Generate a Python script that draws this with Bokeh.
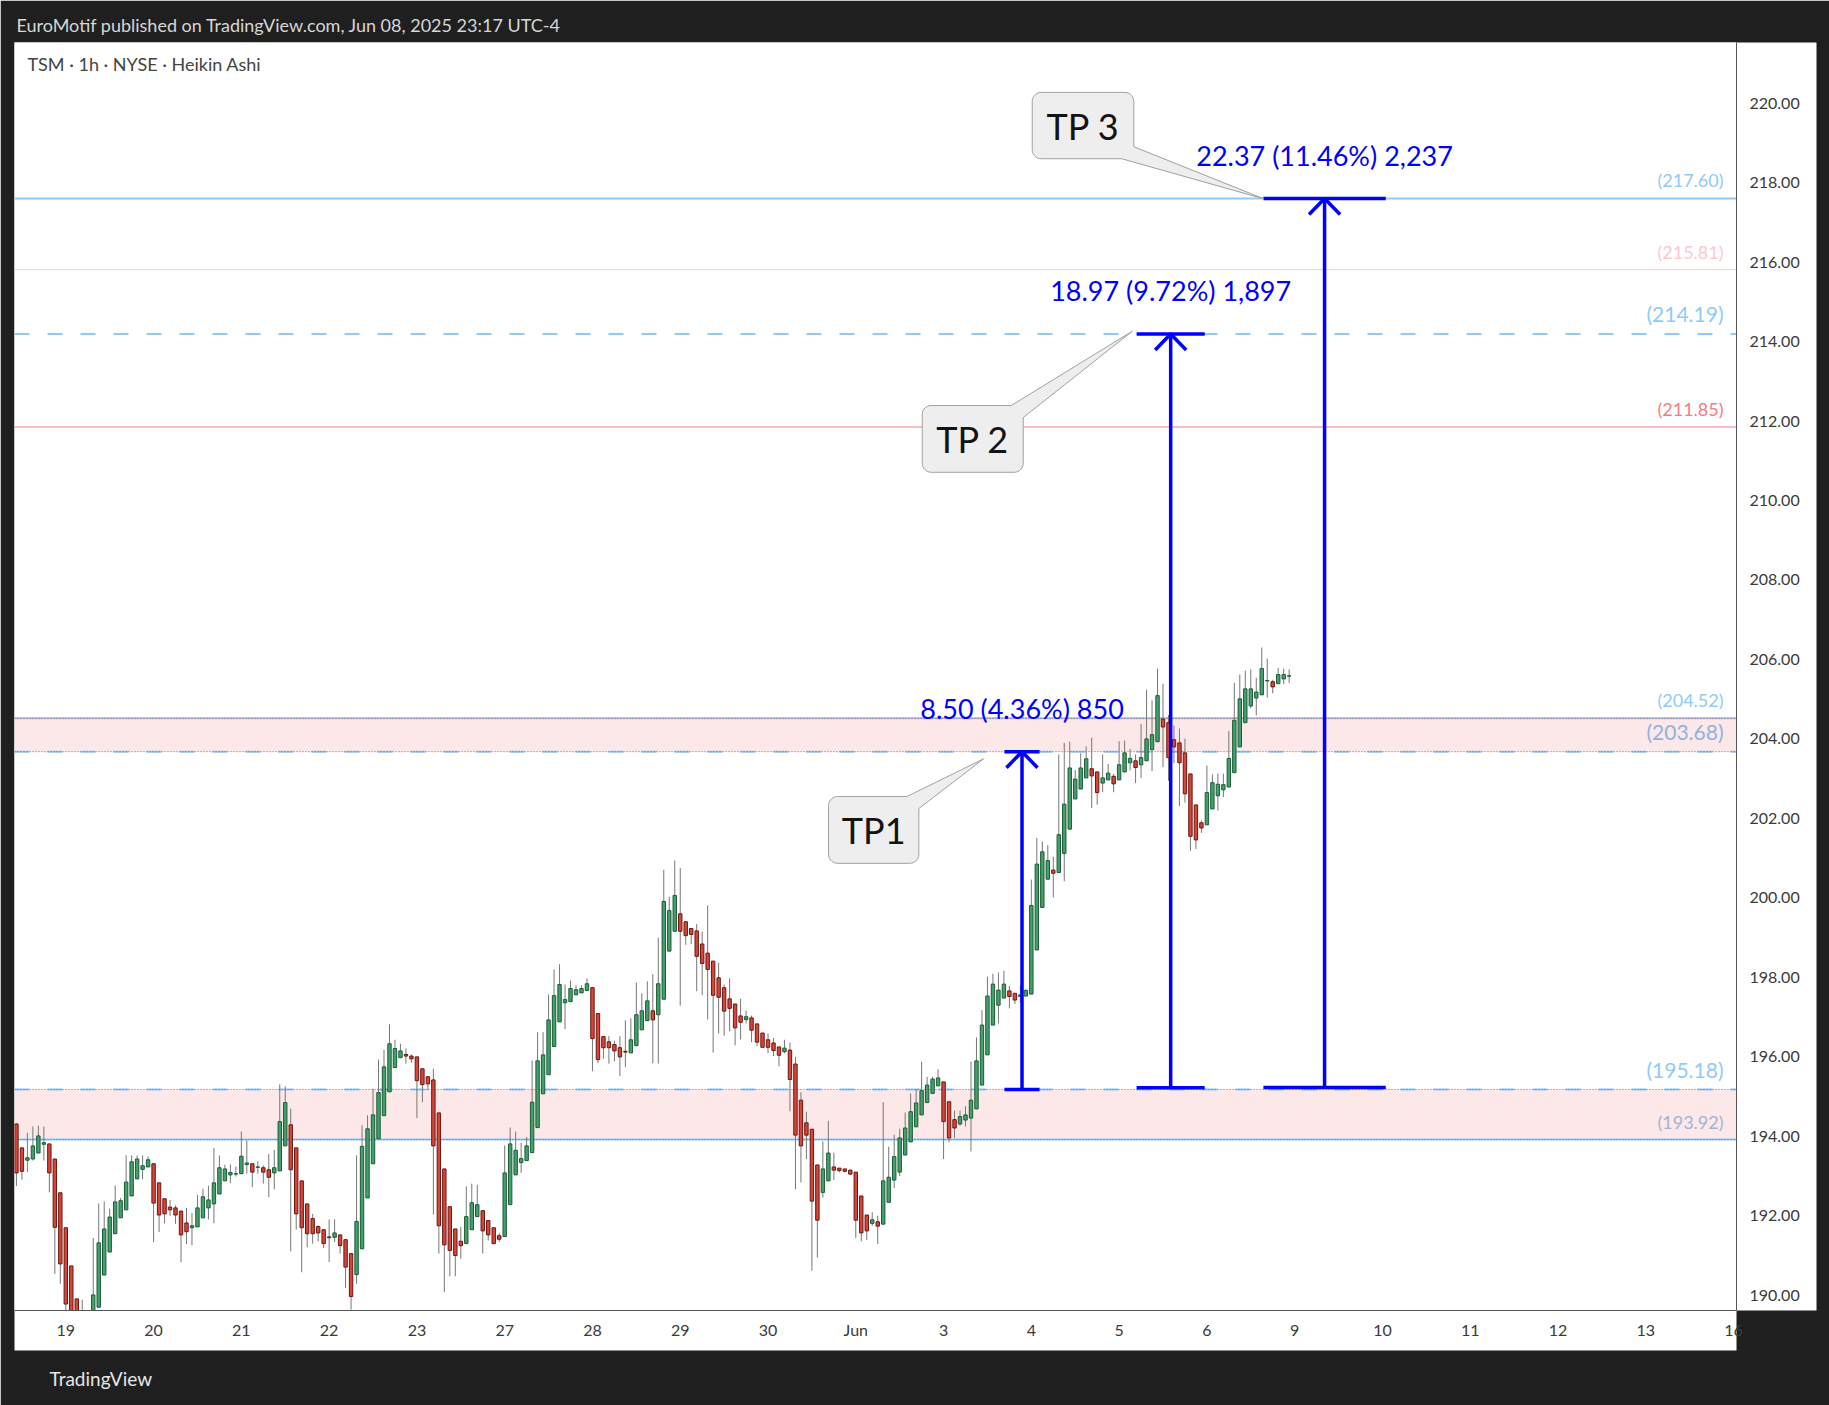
import numpy as np
from bokeh.plotting import figure
from bokeh.models import Range1d, FixedTicker, PrintfTickFormatter, Span, BoxAnnotation, Label, Title
from bokeh.embed import file_html
from bokeh.resources import INLINE

# ---------------- data (hourly Heikin Ashi bars, extended hours) ----------------
opens = [
 194.31,193.71,193.40,193.43,193.58,193.80,193.81,193.43,192.58,191.70,
 190.74,189.91,189.55,189.30,189.30,189.70,190.51,191.09,191.55,191.95,
 192.15,192.50,192.93,193.17,193.23,193.31,192.83,192.43,192.22,192.20,
 192.12,191.82,191.70,191.72,191.95,192.20,192.30,192.55,192.88,193.03,
 193.05,193.06,193.29,193.31,193.22,193.21,193.16,193.08,193.13,193.76,
 194.29,193.71,192.88,192.30,191.93,191.73,191.65,191.47,191.46,191.52,
 191.40,191.05,190.52,191.17,192.45,193.31,193.94,194.52,195.12,195.73,
 195.98,196.06,196.02,196.00,195.70,195.50,195.42,194.59,193.18,192.23,
 191.67,191.36,191.30,191.65,191.98,192.13,191.88,191.70,191.50,191.48,
 192.28,193.03,193.34,193.39,193.59,194.22,195.07,195.55,196.26,196.88,
 197.36,197.39,197.56,197.61,197.67,197.74,197.09,196.51,196.38,196.31,
 196.23,196.14,196.10,196.28,196.68,196.91,197.16,197.06,197.45,198.66,
 199.16,199.60,199.40,199.23,199.17,198.84,198.61,198.41,197.99,197.74,
 197.46,197.33,197.03,196.94,196.98,196.83,196.60,196.43,196.35,196.25,
 196.13,196.17,195.82,194.91,194.34,194.18,193.28,192.59,192.88,193.23,
 193.20,193.18,193.15,193.10,192.50,192.02,191.81,191.85,191.79,192.34,
 192.90,193.10,193.53,193.86,194.24,194.54,194.85,195.08,195.27,195.37,
 194.87,194.42,194.31,194.41,194.46,194.69,195.29,196.05,196.80,197.30,
 197.48,197.66,197.60,197.52,197.53,197.58,198.69,199.76,200.47,200.70,
 200.64,201.12,201.73,202.49,202.74,203.02,203.25,203.17,202.89,202.97,
 203.06,202.97,203.17,203.40,203.45,203.35,203.45,203.73,203.93,204.50,
 204.41,203.98,203.90,203.65,203.12,202.34,201.89,201.84,202.24,202.57,
 202.72,202.79,203.15,203.80,204.41,204.83,205.03,205.11,205.46,205.44,
 205.39,205.51,205.58]
highs = [
 194.33,193.71,194.09,194.25,194.27,194.25,193.81,193.43,192.58,191.70,
 190.74,189.91,189.89,189.50,191.44,192.31,192.36,192.18,192.76,192.45,
 193.52,193.52,193.52,193.52,193.49,193.31,192.83,192.43,192.40,192.26,
 192.12,192.20,192.07,192.53,192.68,192.76,193.71,193.52,193.29,193.29,
 193.24,194.12,193.90,193.31,193.37,193.27,193.56,193.66,195.31,195.26,
 194.70,193.71,192.88,192.30,192.05,191.76,191.65,191.91,191.91,191.52,
 191.40,191.05,193.52,194.28,194.53,195.20,195.93,196.18,196.82,196.43,
 196.33,196.21,196.06,196.00,195.70,195.50,195.70,194.59,193.18,192.23,
 191.67,191.72,192.74,192.81,192.78,192.13,191.88,191.70,191.57,193.77,
 194.22,194.12,193.84,193.98,195.91,196.62,196.62,197.57,198.20,198.33,
 197.82,197.92,197.80,197.80,197.97,197.74,197.09,196.51,196.52,196.41,
 196.52,196.92,196.97,197.87,197.60,197.90,198.08,199.00,200.71,200.03,
 200.94,200.75,199.40,199.23,199.34,199.15,199.81,198.41,198.37,197.82,
 197.98,197.33,197.46,197.16,197.04,196.83,196.60,196.59,196.47,196.25,
 196.43,196.36,196.00,195.11,194.62,194.18,193.28,193.87,194.39,193.59,
 193.20,193.18,193.15,193.10,192.50,192.02,192.09,192.00,194.86,193.74,
 194.04,194.19,194.60,195.08,195.19,195.88,195.50,195.50,195.69,195.37,
 194.87,194.65,194.65,194.76,195.88,196.49,197.18,198.02,198.09,198.12,
 198.17,197.79,197.60,197.79,197.71,200.46,201.51,201.42,201.33,201.04,
 203.61,203.90,203.93,203.22,203.64,203.81,204.03,203.17,203.61,203.37,
 203.12,203.94,203.96,203.75,203.61,204.38,205.24,204.97,205.77,205.39,
 204.60,204.34,204.26,204.01,203.12,202.34,201.95,203.33,203.11,203.13,
 203.13,204.20,205.41,205.62,205.72,205.75,205.54,206.30,206.02,205.49,
 205.79,205.77,205.75]
lows = [
 192.75,192.91,193.10,193.39,193.58,193.39,192.59,190.54,190.29,189.50,
 189.00,188.90,188.80,188.90,189.20,189.70,190.51,191.09,191.55,191.95,
 192.15,192.50,192.93,192.92,193.23,191.34,191.59,191.81,192.00,191.80,
 190.83,191.29,191.26,191.72,191.95,191.91,191.81,192.55,192.88,192.82,
 192.99,193.06,193.06,192.72,193.06,192.81,192.47,192.67,193.13,193.76,
 191.11,191.65,190.58,191.21,191.30,191.36,191.19,190.84,191.34,191.05,
 190.18,189.64,190.29,191.17,192.45,193.31,193.94,194.52,195.12,195.73,
 195.98,195.83,195.85,194.46,194.86,195.16,192.03,191.05,190.08,190.48,
 190.48,190.92,191.30,191.65,191.98,191.05,191.38,191.30,191.34,191.48,
 192.28,193.03,193.08,193.39,193.59,194.22,195.07,195.55,196.26,196.88,
 196.70,197.39,197.56,197.61,197.67,195.64,195.84,195.95,195.83,195.89,
 195.52,195.74,196.10,196.28,196.68,196.91,195.84,195.83,197.45,198.66,
 199.16,197.29,198.82,198.84,197.65,197.55,196.94,196.11,196.59,196.53,
 196.64,196.29,196.44,196.84,196.37,196.27,196.24,196.09,196.02,195.76,
 196.09,194.63,192.67,192.84,193.43,190.62,190.95,192.46,192.88,192.90,
 193.09,193.09,193.03,191.44,191.36,191.39,191.75,191.29,191.79,192.34,
 192.70,193.00,193.53,193.86,194.24,194.54,194.85,195.08,195.27,193.43,
 193.85,193.96,194.27,194.25,193.62,194.69,195.29,196.05,196.80,196.84,
 197.48,197.22,197.33,197.37,197.53,197.58,198.69,199.76,200.47,200.01,
 200.64,200.42,201.73,202.49,202.74,203.02,202.26,202.35,202.66,202.97,
 202.66,202.97,203.17,203.21,202.89,203.02,203.45,203.19,203.93,203.29,
 202.95,203.39,202.31,202.40,201.18,201.23,201.64,201.84,202.24,202.20,
 202.54,202.79,203.15,203.80,204.41,204.77,204.59,205.11,205.04,205.15,
 205.39,205.38,205.41]
closes = [
 193.08,193.12,193.46,193.76,194.01,193.84,193.08,191.71,190.79,189.78,
 189.30,189.20,189.10,189.20,190.01,191.32,191.67,191.97,192.35,192.38,
 192.85,193.36,193.43,193.26,193.41,192.32,192.02,192.05,192.15,192.02,
 191.52,191.60,191.75,192.20,192.48,192.40,192.83,193.21,193.18,193.09,
 193.06,193.50,193.33,193.10,193.23,193.10,192.97,193.21,194.37,194.85,
 193.16,192.05,191.70,191.55,191.55,191.57,191.30,191.45,191.57,191.25,
 190.71,189.97,191.86,193.75,194.19,194.54,195.10,195.75,196.33,196.21,
 196.15,196.02,195.95,195.40,195.30,195.32,193.76,191.75,191.27,191.13,
 191.00,191.25,191.98,192.33,192.28,191.62,191.52,191.30,191.41,193.08,
 193.81,193.65,193.44,193.76,194.86,195.90,196.05,196.93,197.54,197.82,
 197.44,197.72,197.69,197.72,197.84,196.46,195.93,196.23,196.23,196.15,
 196.00,196.12,196.43,197.06,197.16,197.41,196.93,197.84,199.91,199.68,
 200.06,199.16,199.05,199.08,198.53,198.35,198.20,197.55,197.50,197.15,
 197.22,196.73,196.87,197.01,196.67,196.37,196.24,196.24,196.16,196.04,
 196.22,195.43,194.03,193.76,194.03,192.37,191.89,193.18,193.58,193.15,
 193.14,193.12,193.05,191.89,191.57,191.62,191.90,191.74,192.88,192.97,
 193.49,193.96,194.21,194.62,194.84,195.15,195.29,195.44,195.47,194.37,
 193.96,194.21,194.50,194.54,194.91,195.90,196.80,197.53,197.83,197.68,
 197.83,197.52,197.43,197.56,197.67,199.81,200.85,201.16,200.94,200.62,
 201.59,202.36,203.27,202.99,203.27,203.50,203.07,202.65,203.02,203.14,
 202.87,203.35,203.65,203.51,203.28,203.53,204.00,204.11,205.09,204.30,
 203.53,203.80,203.40,202.62,201.55,201.46,201.76,202.65,202.90,202.86,
 202.85,203.51,204.47,205.01,205.26,205.26,205.18,205.77,205.47,205.31,
 205.62,205.62,205.59]

# session start bar index for each trading day, and its axis label
day_ticks = [9, 25, 41, 57, 73, 89, 105, 121, 137, 153, 169, 185, 201, 217, 233, 249, 265, 281, 297, 313]
day_labels = ["19", "20", "21", "22", "23", "27", "28", "29", "30", "Jun",
              "3", "4", "5", "6", "9", "10", "11", "12", "13", "16"]
price_ticks = [190, 192, 194, 196, 198, 200, 202, 204, 206, 208, 210, 212, 214, 216, 218, 220]

# horizontal levels
level_price = [217.60, 215.81, 214.19, 211.85, 204.52, 203.68, 195.18, 193.92]
# support / resistance zones
zone_bottom = [203.68, 193.92]
zone_top = [204.52, 195.18]

# measure tools (start bar, end bar, start price, end price)
tp_bar0 = [180.1, 204.2, 227.3]
tp_bar1 = [186.5, 216.6, 249.6]
tp_p0 = [195.18, 195.22, 195.23]
tp_p1 = [203.68, 214.19, 217.60]
tp_text = ["8.50 (4.36%) 850", "18.97 (9.72%) 1,897", "22.37 (11.46%) 2,237"]

# callouts (box in bars/prices, pointer tip)
co_text = ["TP1", "TP 2", "TP 3"]
co_x0 = [148.03, 165.11, 185.16]
co_x1 = [164.49, 183.52, 203.68]
co_top = [202.55, 212.39, 220.27]
co_bot = [200.87, 210.71, 218.60]
co_tipx = [176.3, 203.4, 227.4]
co_tipy = [203.50, 214.26, 217.59]
co_corner = ["tr", "tr", "br"]

# ---------------- geometry ----------------
W, H = 1829, 1405
FL, FT, FW, FH = 14, 42, 1722, 1268          # frame left/top/width/height in px
PXB = 5.486                                  # px per bar
PXP = 39.74                                  # px per price unit
X0 = -0.352
YTOP = 221.525
x_range = Range1d(X0, X0 + FW / PXB)
y_range = Range1d(YTOP - FH / PXP, YTOP)

def cx(px):   # page px -> bar coordinate
    return X0 + (px - FL) / PXB

def cy(py):   # page px -> price coordinate
    return YTOP - (py - FT) / PXP

FONT = "Lato"
BLUE = "#0000ff"
DARK = "#1f1f1f"

p = figure(width=W, height=H, x_range=x_range, y_range=y_range,
           y_axis_location="right", toolbar_location=None, output_backend="svg",
           min_border_left=FL, min_border_right=W - FL - FW,
           min_border_top=FT, min_border_bottom=H - FT - FH)
p.background_fill_color = "white"
p.border_fill_color = DARK
p.outline_line_color = None
p.xgrid.visible = False
p.ygrid.visible = False

# header / footer
p.title.text = "EuroMotif published on TradingView.com, Jun 08, 2025 23:17 UTC-4"
p.title.align = "left"
p.title.offset = 2
p.title.standoff = 13
p.title.text_font = FONT
p.title.text_font_size = "18px"
p.title.text_font_style = "normal"
p.title.text_color = "#d6d6d6"

# axes
xa = p.xaxis[0]
ya = p.yaxis[0]
xa.ticker = FixedTicker(ticks=day_ticks)
xa.major_label_overrides = {t: l for t, l in zip(day_ticks, day_labels)}
ya.ticker = FixedTicker(ticks=price_ticks)
ya.formatter = PrintfTickFormatter(format="%.2f")
for ax in (xa, ya):
    ax.major_tick_line_color = None
    ax.minor_tick_line_color = None
    ax.axis_line_color = "#555555"
    ax.axis_line_width = 1
    ax.major_label_text_font = FONT
    ax.major_label_text_font_size = "16px"
    ax.major_label_text_color = "#3a3a3a"
    try:
        ax.background_fill_color = "white"
    except Exception:
        pass
xa.major_label_standoff = 3
xa.axis_label = " "
xa.axis_label_standoff = 0
xa.axis_label_text_font_size = "5px"
ya.major_label_standoff = 7
ya.axis_label = " "
ya.axis_label_standoff = 2
ya.axis_label_text_font_size = "8px"
# dark strip on the far right edge of the page
p.add_layout(Title(text=" ", text_font_size="2px", standoff=0,
                   background_fill_color=DARK), "right")
p.add_layout(Title(text="TradingView", align="left", offset=35, standoff=29,
                   text_font=FONT, text_font_size="19px", text_font_style="normal",
                   text_color="#e6e6e6"), "below")

# zones
for b, t in zip(zone_bottom, zone_top):
    p.add_layout(BoxAnnotation(bottom=b, top=t, fill_color="#fce8e8", fill_alpha=1.0,
                               line_color=None, level="underlay"))

# horizontal levels (drawn beneath the marks)
level_color = ["#90caf9", "#ffc7cd", "#90caf9", "#f77c80", "#90caf9", "#90caf9", "#90caf9", "#90caf9"]
level_width = [2, 1, 2, 1, 2, 2, 2, 2]
level_dash = ["solid", "solid", "15 18", "solid", "solid", "15 18", "15 18", "solid"]
label_color = ["#90caf9", "#ffc7cd", "#90caf9", "#f77c80", "#90caf9", "#8fb2e0", "#90caf9", "#9fb3d6"]
label_size = [18, 18, 21, 18, 18, 21, 21, 18]
for lv, lc, lw, ld in zip(level_price, level_color, level_width, level_dash):
    p.add_layout(Span(location=lv, dimension="width", line_color=lc, line_width=lw,
                      line_dash=ld, level="underlay"))
for b, t in zip(zone_bottom, zone_top):
    for lv in (b, t):
        p.add_layout(Span(location=lv, dimension="width", line_color="#e53935",
                          line_width=1, line_dash="1 2", level="underlay"))
for lv, tc, ts in zip(level_price, label_color, label_size):
    off = 18 if ts < 19 else 20
    p.add_layout(Label(x=cx(1723), y=lv + off / PXP, text="(%.2f)" % lv,
                       text_align="right", text_baseline="middle",
                       text_font=FONT, text_font_size="%dpx" % ts, text_color=tc))

# candles
idx = np.arange(len(opens))
o = np.array(opens); c = np.array(closes)
up = c >= o
body_top = np.maximum(o, c)
body_bot = np.minimum(o, c)
fill = np.where(up, "#43a06c", "#d4463a").tolist()
edge = np.where(up, "#1d5c37", "#6b1712").tolist()
p.segment(x0=idx, y0=highs, x1=idx, y1=lows, line_color="#777777", line_width=1)
p.vbar(x=idx, width=0.62, top=body_top, bottom=body_bot, fill_color=fill,
       line_color=edge, line_width=1)

# measure tools
dxh = 15.5 / PXB
dyh = 16 / PXP
for b0, b1, p0, p1, tx in zip(tp_bar0, tp_bar1, tp_p0, tp_p1, tp_text):
    xm = (b0 + b1) / 2
    p.segment(x0=[b0, b0, xm], y0=[p0, p1, p0], x1=[b1, b1, xm], y1=[p0, p1, p1],
              line_color=BLUE, line_width=3.5)
    p.line(x=[xm - dxh, xm, xm + dxh], y=[p1 - dyh, p1, p1 - dyh], line_color=BLUE, line_width=3.5)
    p.add_layout(Label(x=xm, y=p1 + 43 / PXP, text=tx, text_align="center",
                       text_baseline="middle", text_font=FONT, text_font_size="27px",
                       text_color=BLUE))

# callouts
def callout(x0, x1, top, bot, tx, ty, corner, r=9.0, base=12.0):
    L, R = x0 * PXB, x1 * PXB
    T, B = -top * PXP, -bot * PXP
    TX, TY = tx * PXB, -ty * PXP
    pts = []
    def arc(ccx, ccy, a0, a1):
        for a in np.linspace(a0, a1, 8):
            pts.append((ccx + r * np.cos(a), ccy + r * np.sin(a)))
    arc(L + r, T + r, np.pi, 1.5 * np.pi)
    if corner == "tr":
        pts.extend([(R - base, T), (TX, TY), (R, T + base)])
    else:
        arc(R - r, T + r, 1.5 * np.pi, 2 * np.pi)
    if corner == "br":
        pts.extend([(R, B - base), (TX, TY), (R - base, B)])
    else:
        arc(R - r, B - r, 0, 0.5 * np.pi)
    arc(L + r, B - r, 0.5 * np.pi, np.pi)
    return [q[0] / PXB for q in pts], [-q[1] / PXP for q in pts]

for t, x0, x1, tp, bt, tx, ty, cn in zip(co_text, co_x0, co_x1, co_top, co_bot,
                                         co_tipx, co_tipy, co_corner):
    xs, ys = callout(x0, x1, tp, bt, tx, ty, cn)
    p.patch(xs, ys, fill_color="#eeeeee", line_color="#a0a0a0", line_width=1)
    p.add_layout(Label(x=(x0 + x1) / 2, y=(tp + bt) / 2, text=t, text_align="center",
                       text_baseline="middle", text_font=FONT, text_font_size="36px",
                       text_color="#131313"))

# symbol caption inside chart
p.add_layout(Label(x=cx(27), y=cy(63.3), text="TSM \u00b7 1h \u00b7 NYSE \u00b7 Heikin Ashi",
                   text_align="left", text_baseline="middle", text_font=FONT,
                   text_font_size="18px", text_color="#444444"))

open("out.html", "w").write(file_html(p, INLINE))
